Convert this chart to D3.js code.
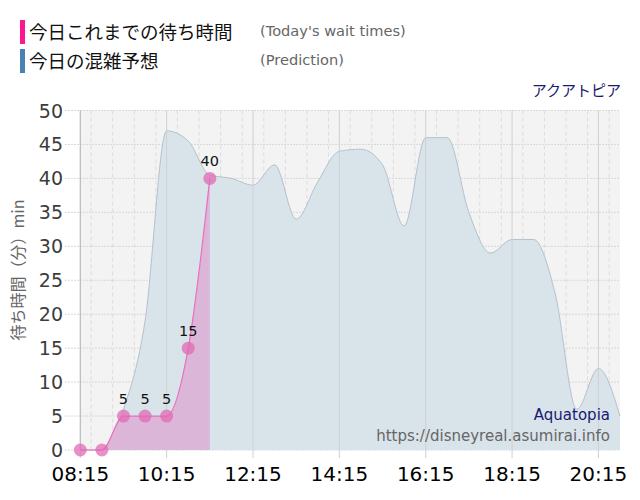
<!DOCTYPE html>
<html>
<head>
<meta charset="utf-8">
<script src="https://cdn.jsdelivr.net/npm/d3@7"></script>
<style>
  body { margin: 0; background: #fff; }
  svg { font-family: "DejaVu Sans", sans-serif; }
</style>
</head>
<body>
<svg id="chart" width="640" height="500"></svg>
<script>
// today's measured wait times (every 30 min)
var waitTimes = ["08:15","08:45","09:15","09:45","10:15","10:45","11:15"];
var waitValues = [0, 0, 5, 5, 5, 15, 40];

// prediction curve
var predTimes = ["08:15","08:45","09:15","09:45","10:15","10:45","11:15","11:45","12:15","12:45",
                 "13:15","13:45","14:15","14:45","15:15","15:45","16:15","16:45","17:15","17:45",
                 "18:15","18:45","19:15","19:45","20:15","20:45"];
var predValues = [0, 0, 6, 19, 47, 45.5, 40.5, 40, 39, 42,
                  34, 39.5, 44, 44.3, 42, 33, 46, 46, 35, 29,
                  31, 31, 23, 6, 12, 5];

var xTickLabels = ["08:15","10:15","12:15","14:15","16:15","18:15","20:15"];
var yTicks = [0,5,10,15,20,25,30,35,40,45,50];

var parse = d3.timeParse("%H:%M");
var svg = d3.select("#chart");

var x = d3.scaleTime()
  .domain([parse("08:15"), parse("20:45")])
  .range([80.3, 620]);
var y = d3.scaleLinear().domain([0, 50]).range([450, 110.5]);

var waitData = waitTimes.map(function(t, i){ return {t: parse(t), v: waitValues[i]}; });
var predData = predTimes.map(function(t, i){ return {t: parse(t), v: predValues[i]}; });

// plot background
svg.append("rect")
  .attr("x", x.range()[0]).attr("y", y(50))
  .attr("width", x.range()[1] - x.range()[0])
  .attr("height", y(0) - y(50))
  .attr("fill", "#f3f3f3");

// horizontal grid
svg.append("g").selectAll("line").data(yTicks).enter().append("line")
  .attr("x1", 65).attr("x2", x.range()[1])
  .attr("y1", function(d){ return y(d); }).attr("y2", function(d){ return y(d); })
  .attr("stroke", "#d8d8d8").attr("stroke-dasharray", "2,1");

// vertical grid every 30 min
var halfHours = d3.timeMinute.every(30).range(parse("08:15"), parse("20:46"));
svg.append("g").selectAll("line").data(halfHours).enter().append("line")
  .attr("x1", function(d){ return x(d); }).attr("x2", function(d){ return x(d); })
  .attr("y1", y(50)).attr("y2", y(0))
  .attr("stroke", "#dcdcdc").attr("stroke-dasharray", "4,3");

// prediction area
var predArea = d3.area()
  .x(function(d){ return x(d.t); })
  .y0(y(0)).y1(function(d){ return y(d.v); })
  .curve(d3.curveMonotoneX);
var predLine = d3.line()
  .x(function(d){ return x(d.t); })
  .y(function(d){ return y(d.v); })
  .curve(d3.curveMonotoneX);

svg.append("path").datum(predData)
  .attr("d", predArea).attr("fill", "#d9e3ea");
svg.append("path").datum(predData)
  .attr("d", predLine).attr("fill", "none")
  .attr("stroke", "#b4c2cc").attr("stroke-width", 1);

// 2h tick lines
var tickDates = xTickLabels.map(parse);
svg.append("g").selectAll("line").data(tickDates).enter().append("line")
  .attr("x1", function(d){ return x(d); }).attr("x2", function(d){ return x(d); })
  .attr("y1", y(50)).attr("y2", 458)
  .attr("stroke", "#d0d0d0").attr("stroke-width", 1);

// wait area + line
var waitArea = d3.area()
  .x(function(d){ return x(d.t); })
  .y0(y(0)).y1(function(d){ return y(d.v); })
  .curve(d3.curveMonotoneX);
var waitLine = d3.line()
  .x(function(d){ return x(d.t); })
  .y(function(d){ return y(d.v); })
  .curve(d3.curveMonotoneX);

svg.append("path").datum(waitData)
  .attr("d", waitArea).attr("fill", "#dcb6d8");
svg.append("path").datum(waitData)
  .attr("d", waitLine).attr("fill", "none")
  .attr("stroke", "#ea6fba").attr("stroke-width", 1.2);

// left axis line
svg.append("line")
  .attr("x1", x.range()[0]).attr("x2", x.range()[0])
  .attr("y1", y(50)).attr("y2", y(0))
  .attr("stroke", "#b8b8c0");

// markers
svg.append("g").selectAll("circle").data(waitData).enter().append("circle")
  .attr("cx", function(d){ return x(d.t); })
  .attr("cy", function(d){ return y(d.v); })
  .attr("r", 6.5)
  .attr("fill", "#e066b4").attr("fill-opacity", 0.72);

svg.append("g").selectAll("text").data(waitData.filter(function(d){ return d.v > 0; }))
  .enter().append("text")
  .attr("x", function(d){ return x(d.t); })
  .attr("y", function(d){ return y(d.v) - 12; })
  .attr("text-anchor", "middle")
  .attr("font-size", 14.5).attr("fill", "#111")
  .text(function(d){ return d.v; });

// y tick labels
svg.append("g").selectAll("text").data(yTicks).enter().append("text")
  .attr("x", 63).attr("y", function(d){ return y(d) + 7; })
  .attr("text-anchor", "end")
  .attr("font-size", 19).attr("fill", "#3c3c3c")
  .text(function(d){ return d; });

// x tick labels
svg.append("g").selectAll("text").data(tickDates).enter().append("text")
  .attr("x", function(d){ return x(d); }).attr("y", 480.5)
  .attr("text-anchor", "middle")
  .attr("font-size", 20).attr("fill", "#000")
  .text(function(d){ return d3.timeFormat("%H:%M")(d); });

// y axis title
svg.append("text")
  .attr("transform", "translate(24,270) rotate(-90)")
  .attr("text-anchor", "middle")
  .attr("font-size", 16).attr("fill", "#666")
  .attr("font-family", "'Noto Sans CJK JP', sans-serif")
  .text("待ち時間（分）min");

// legend
var legend = [
  {label: "今日これまでの待ち時間", sub: "(Today's wait times)", color: "#ff1493", y: 20},
  {label: "今日の混雑予想", sub: "(Prediction)", color: "#4682b4", y: 49}
];
var lg = svg.append("g").selectAll("g").data(legend).enter().append("g");
lg.append("rect").attr("x", 20).attr("y", function(d){ return d.y; })
  .attr("width", 5).attr("height", 24).attr("fill", function(d){ return d.color; });
lg.append("text").attr("x", 29).attr("y", function(d){ return d.y + 19; })
  .attr("font-family", "'Noto Sans CJK JP', sans-serif")
  .attr("font-size", 18.5).attr("fill", "#111")
  .text(function(d){ return d.label; });
lg.append("text").attr("x", 260).attr("y", function(d){ return d.y + 16; })
  .attr("font-size", 14.6).attr("fill", "#666")
  .text(function(d){ return d.sub; });

// captions
svg.append("text").attr("x", 621).attr("y", 96)
  .attr("text-anchor", "end")
  .attr("font-family", "'Noto Sans CJK JP', sans-serif")
  .attr("font-size", 15).attr("fill", "#191970")
  .text("アクアトピア");
svg.append("text").attr("x", 610).attr("y", 420)
  .attr("text-anchor", "end")
  .attr("font-size", 15).attr("fill", "#191970")
  .text("Aquatopia");
svg.append("text").attr("x", 610).attr("y", 441)
  .attr("text-anchor", "end")
  .attr("font-size", 15).attr("fill", "#666")
  .text("https://disneyreal.asumirai.info");
</script>
</body>
</html>
